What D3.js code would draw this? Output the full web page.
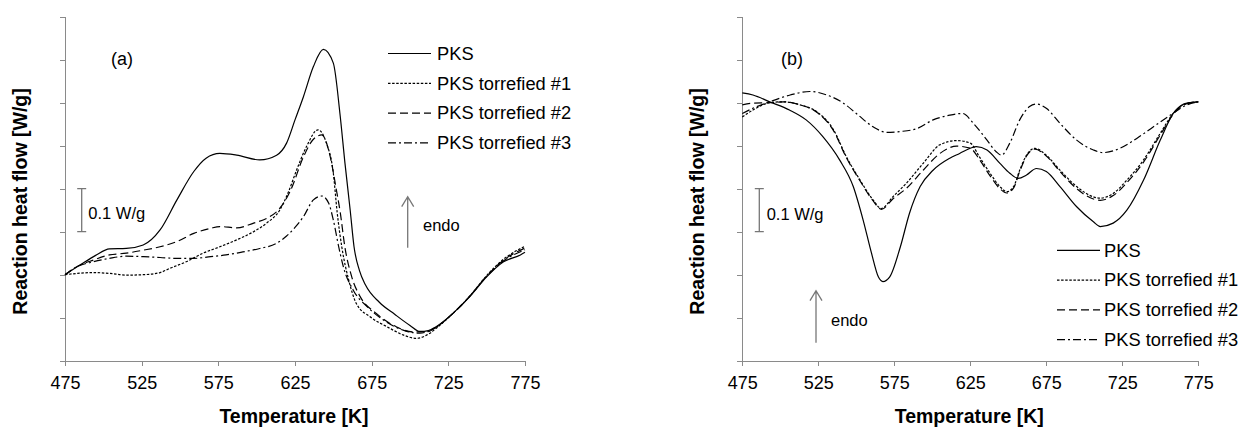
<!DOCTYPE html>
<html>
<head>
<meta charset="utf-8">
<script src="https://cdn.jsdelivr.net/npm/d3@7"></script>
<style>
  html, body { margin: 0; padding: 0; background: #fff; }
  svg { display: block; font-family: "Liberation Sans", Arial, sans-serif; }
  .axis path, .axis line { stroke: #8a8a8a; stroke-width: 1; shape-rendering: crispEdges; }
  .axis text { fill: #000; font-size: 18px; }
  .axis-title { font-size: 19.5px; font-weight: bold; fill: #000; }
  .series { fill: none; stroke: #000; stroke-width: 1.2; }
  .legend text { font-size: 18.3px; fill: #000; }
  .note { font-size: 16.5px; fill: #000; }
  .bar, .arrow { stroke: #777; stroke-width: 1.3; fill: none; }
</style>
</head>
<body>
<div id="chart"></div>
<script>
(function () {
  "use strict";

  // tick labels (K) and series names
  const tempTicks = [475, 525, 575, 625, 675, 725, 775];
  const flowTicks = [0, 0.1, 0.2, 0.3, 0.4, 0.5, 0.6, 0.7, 0.8];
  const seriesNames = ["PKS", "PKS torrefied #1", "PKS torrefied #2", "PKS torrefied #3"];

  // (a) reaction heat flow, [temperature K, W/g offset]
  const pksA = [[475,0.200],[485,0.223],[495,0.245],[504,0.260],[515,0.261],[526,0.269],[537,0.304],[548,0.374],[559,0.440],[567,0.471],[576,0.482],[587,0.478],[602,0.467],[613,0.478],[619.5,0.506],[625,0.560],[630.5,0.614],[637,0.684],[643.5,0.724],[650,0.692],[654.3,0.575],[657.6,0.459],[661,0.350],[663.5,0.265],[667,0.210],[671,0.176],[680,0.136],[690,0.108],[700,0.082],[706.5,0.068],[712,0.070],[717,0.079],[728,0.110],[739,0.149],[750,0.195],[761,0.230],[772,0.246],[775,0.252]];
  const tor1A = [[475,0.200],[483,0.203],[493,0.205],[504,0.203],[515,0.199],[526,0.200],[537,0.205],[543.5,0.215],[554,0.230],[565,0.250],[576,0.265],[587,0.281],[598,0.300],[606.5,0.320],[615,0.350],[621,0.395],[626,0.443],[632.5,0.498],[640,0.537],[645.5,0.506],[650,0.436],[652.5,0.345],[655.5,0.265],[660,0.188],[665,0.133],[674,0.102],[685,0.079],[695.5,0.060],[704,0.052],[713,0.064],[718,0.078],[728,0.110],[739,0.150],[750,0.198],[761,0.236],[775,0.266]];
  const tor2A = [[475,0.200],[483,0.219],[493.5,0.234],[504,0.246],[515,0.250],[526,0.257],[537,0.265],[548,0.277],[559,0.296],[570,0.308],[576,0.312],[587,0.309],[598,0.320],[606.5,0.331],[615,0.354],[622,0.395],[630.5,0.474],[637,0.515],[642.5,0.525],[648,0.474],[652,0.397],[654.5,0.345],[657.5,0.265],[662,0.195],[667.5,0.149],[678,0.110],[691,0.079],[702,0.067],[711,0.067],[717,0.078],[728,0.110],[739,0.150],[750,0.197],[761,0.234],[775,0.262]];
  const tor3A = [[475,0.200],[483,0.219],[493.5,0.230],[504,0.238],[515,0.243],[526,0.242],[537,0.240],[548,0.238],[559,0.238],[570,0.242],[580,0.246],[591,0.253],[602,0.261],[613,0.273],[619.5,0.290],[625,0.310],[630.5,0.335],[637,0.374],[642.5,0.383],[647,0.366],[650,0.327],[653.5,0.265],[656.5,0.219],[663,0.164],[672,0.126],[682.5,0.095],[695.5,0.071],[706.5,0.064],[717,0.078],[728,0.110],[739,0.150],[750,0.196],[761,0.232],[775,0.258]];

  // (b)
  const pksB = [[475,0.623],[482,0.618],[493,0.602],[506,0.583],[517,0.560],[528,0.521],[539,0.467],[548,0.405],[554.5,0.327],[560,0.250],[564.5,0.195],[567.5,0.184],[572,0.195],[579,0.265],[585,0.343],[592,0.405],[600.5,0.443],[611.5,0.471],[618,0.482],[625,0.494],[629,0.498],[636,0.490],[644.5,0.459],[651,0.436],[656.5,0.424],[662,0.432],[668.5,0.447],[675,0.440],[684,0.405],[695,0.358],[706,0.323],[710.5,0.312],[719,0.320],[728,0.350],[739,0.420],[750,0.513],[758.5,0.575],[767.5,0.599],[775,0.602]];
  const tor1B = [[475,0.567],[482,0.583],[493,0.600],[502,0.602],[513,0.595],[524,0.579],[535,0.537],[543.5,0.474],[552.5,0.420],[561,0.374],[566.5,0.354],[574,0.381],[583,0.413],[594,0.459],[605,0.502],[616,0.512],[625,0.506],[631,0.474],[638,0.436],[644.5,0.405],[649,0.393],[653.5,0.405],[657.5,0.443],[662,0.478],[667.5,0.494],[675,0.478],[684,0.443],[695,0.405],[706,0.381],[710.5,0.378],[719,0.389],[728,0.420],[739,0.467],[750,0.529],[758.5,0.575],[767.5,0.599],[775,0.602]];
  const tor2B = [[475,0.595],[482,0.599],[493,0.600],[502,0.602],[513,0.595],[524,0.578],[535,0.535],[543.5,0.472],[552.5,0.418],[561,0.372],[566.5,0.352],[574,0.376],[583,0.401],[594,0.443],[605,0.482],[616,0.499],[625,0.494],[631,0.468],[638,0.430],[644.5,0.400],[649,0.390],[653.5,0.402],[657.5,0.440],[662,0.476],[667.5,0.492],[675,0.476],[684,0.440],[695,0.400],[706,0.376],[710.5,0.373],[719,0.384],[728,0.414],[739,0.462],[750,0.525],[758.5,0.573],[767.5,0.598],[775,0.602]];
  const tor3B = [[475,0.575],[482,0.587],[493,0.602],[506.5,0.618],[519.5,0.626],[530.5,0.618],[541.5,0.599],[550,0.575],[561,0.544],[570,0.531],[579,0.533],[590,0.540],[600.5,0.560],[611.5,0.571],[620,0.575],[627,0.552],[636,0.513],[642,0.486],[645.5,0.478],[651,0.506],[657.5,0.560],[664,0.591],[668.5,0.597],[675,0.587],[684,0.552],[695,0.513],[706,0.490],[712.5,0.484],[723.5,0.494],[734.5,0.517],[745.5,0.544],[756.5,0.571],[767.5,0.595],[775,0.602]];

  const dashes = ["none", "2.5,1.6", "8,4", "8,3,2,3"];

  const width = 1243, height = 429;
  const svg = d3.select("#chart").append("svg")
    .attr("width", width).attr("height", height)
    .attr("viewBox", [0, 0, width, height]);

  const panels = [
    {
      tag: "(a)", left: 65, right: 525, series: [pksA, tor1A, tor2A, tor3A],
      tagPos: [111, 65],
      legend: { x: 388, y: 53.5, textX: 437 },
      bar: { x: 81.7, val: [0.3, 0.4], textX: 88.3, textY: 218.5 },
      endo: { x: 407.7, top: 196.7, bottom: 247.7, textX: 423, textY: 231 }
    },
    {
      tag: "(b)", left: 742.3, right: 1198.3, series: [pksB, tor1B, tor2B, tor3B],
      tagPos: [781, 65],
      legend: { x: 1057, y: 250.3, textX: 1104 },
      bar: { x: 759.3, val: [0.3, 0.4], textX: 766.7, textY: 219.5 },
      endo: { x: 816, top: 290.7, bottom: 342.7, textX: 831, textY: 326 }
    }
  ];

  const yTop = 16.7, yBottom = 360.7;

  panels.forEach((p) => {
    const x = d3.scaleLinear().domain([475, 775]).range([p.left, p.right]);
    const y = d3.scaleLinear().domain([0, 0.8]).range([yBottom, yTop]);
    const g = svg.append("g");

    g.append("g")
      .attr("class", "axis")
      .attr("transform", `translate(0,${yBottom})`)
      .call(d3.axisBottom(x).tickValues(tempTicks).tickFormat(d3.format("d"))
        .tickSize(5).tickSizeOuter(0).tickPadding(11));

    g.append("g")
      .attr("class", "axis")
      .attr("transform", `translate(${p.left},0)`)
      .call(d3.axisLeft(y).tickValues(flowTicks).tickFormat("")
        .tickSize(5).tickSizeOuter(0));

    const line = d3.line()
      .x((d) => x(d[0]))
      .y((d) => y(d[1]))
      .curve(d3.curveMonotoneX);

    g.selectAll("path.series")
      .data(p.series)
      .join("path")
      .attr("class", "series")
      .attr("stroke-dasharray", (_, i) => dashes[i])
      .attr("d", line);

    // legend
    const leg = g.append("g").attr("class", "legend");
    const items = leg.selectAll("g")
      .data(seriesNames)
      .join("g")
      .attr("transform", (_, i) => `translate(0,${p.legend.y + i * 29.8})`);
    items.append("line")
      .attr("class", "series")
      .attr("x1", p.legend.x).attr("x2", p.legend.x + 43)
      .attr("stroke-dasharray", (_, i) => dashes[i]);
    items.append("text")
      .attr("x", p.legend.textX)
      .attr("y", 6.3)
      .text((d) => d);

    // panel tag
    g.append("text").attr("class", "note").style("font-size", "18px")
      .attr("x", p.tagPos[0]).attr("y", p.tagPos[1]).text(p.tag);

    // 0.1 W/g scale bar
    const b0 = y(p.bar.val[0]), b1 = y(p.bar.val[1]);
    g.append("path").attr("class", "bar")
      .attr("d", `M${p.bar.x},${b0}V${b1}M${p.bar.x - 4.5},${b0}h9M${p.bar.x - 4.5},${b1}h9`);
    g.append("text").attr("class", "note")
      .attr("x", p.bar.textX).attr("y", p.bar.textY).text("0.1 W/g");

    // endo arrow
    const e = p.endo;
    g.append("path").attr("class", "arrow")
      .attr("d", `M${e.x},${e.bottom}V${e.top}M${e.x - 6},${e.top + 10}L${e.x},${e.top}L${e.x + 6},${e.top + 10}`);
    g.append("text").attr("class", "note")
      .attr("x", e.textX).attr("y", e.textY).text("endo");

    // axis titles
    g.append("text").attr("class", "axis-title")
      .attr("text-anchor", "middle")
      .attr("x", (p.left + p.right) / 2 - 1).attr("y", 423)
      .text("Temperature [K]");
    g.append("text").attr("class", "axis-title")
      .attr("text-anchor", "middle")
      .attr("transform", `translate(${p.left - 38.5},201.5) rotate(-90)`)
      .text("Reaction heat flow [W/g]");
  });
})();
</script>
</body>
</html>
